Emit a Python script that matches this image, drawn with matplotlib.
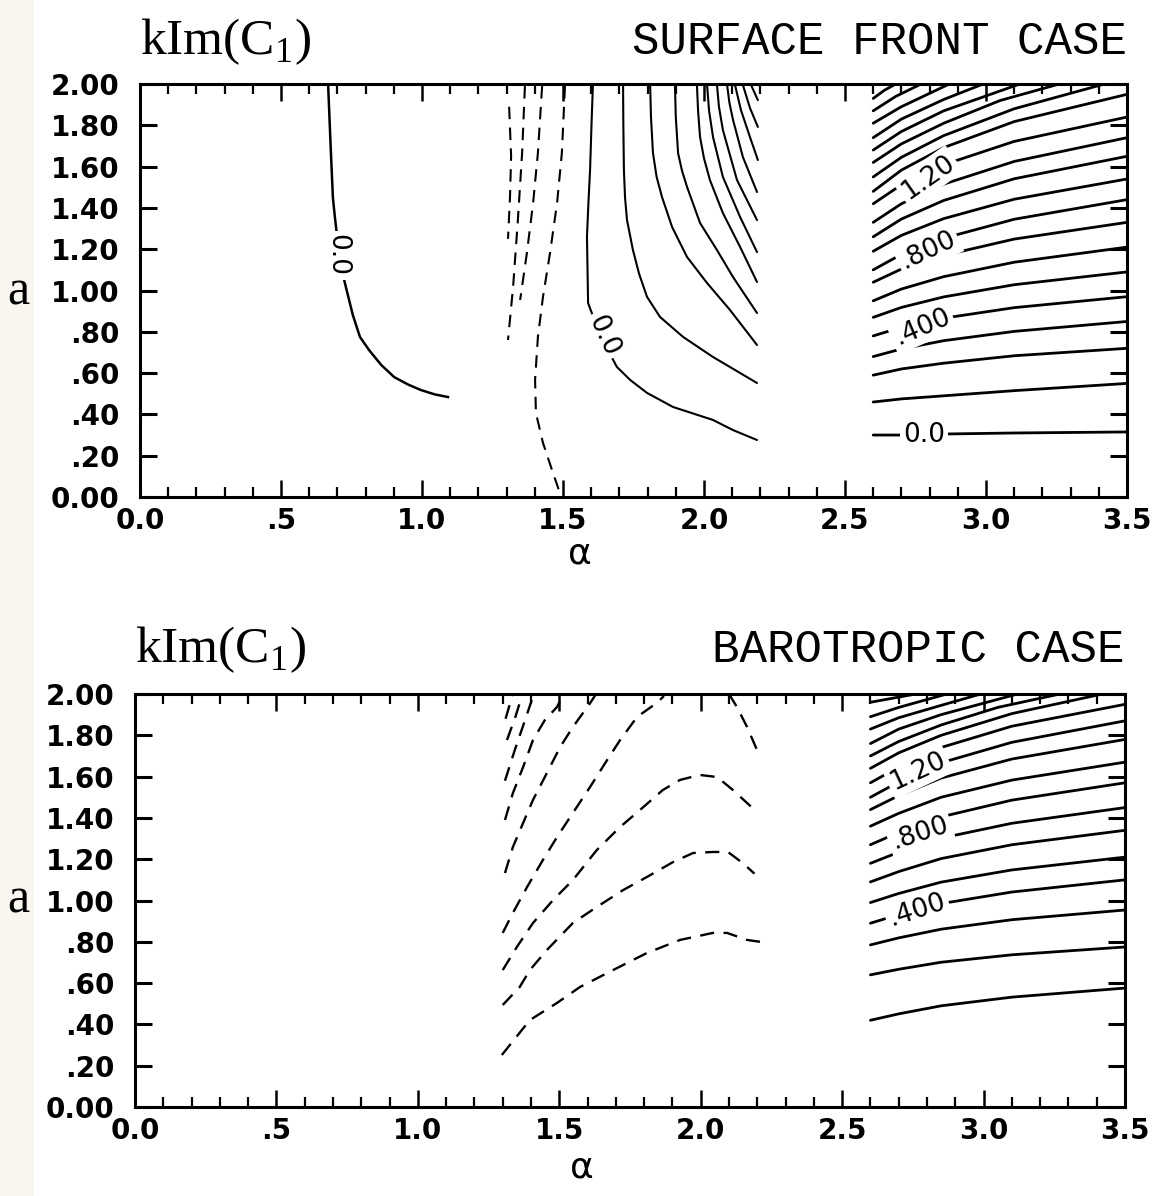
import matplotlib
matplotlib.use("Agg")
import matplotlib.pyplot as plt
from matplotlib.patches import Rectangle
from matplotlib.ticker import MultipleLocator

plt.rcParams["mathtext.fontset"] = "custom"
plt.rcParams["mathtext.rm"] = "Liberation Serif"

# ---------------------------------------------------------------------------
# axis ticks (shared by both panels)
x_ticks = [0.0, 0.5, 1.0, 1.5, 2.0, 2.5, 3.0, 3.5]
x_tick_labels = ["0.0", ".5", "1.0", "1.5", "2.0", "2.5", "3.0", "3.5"]
y_ticks = [0.0, 0.2, 0.4, 0.6, 0.8, 1.0, 1.2, 1.4, 1.6, 1.8, 2.0]
y_tick_labels = ["0.00", ".20", ".40", ".60", ".80", "1.00",
                 "1.20", "1.40", "1.60", "1.80", "2.00"]

titles = ["SURFACE FRONT CASE", "BAROTROPIC CASE"]

# ---------------------------------------------------------------------------
# SURFACE FRONT CASE -- digitised contours (alpha, a)

# isolated 0.0 contour on the left
sf_left_alpha = [0.667, 0.676, 0.684, 0.691, 0.700, 0.712, 0.730, 0.755, 0.780,
                 0.812, 0.855, 0.901, 0.950, 0.996, 1.045, 1.092]
sf_left_a = [2.00, 1.70, 1.45, 1.356, 1.25, 1.12, 1.017, 0.88, 0.775,
             0.712, 0.64, 0.581, 0.545, 0.518, 0.497, 0.484]

# negative (dashed) contours around alpha = 1.3 - 1.5
sf_dashed_alpha = [
    [1.309, 1.316, 1.312, 1.305],
    [1.365, 1.355, 1.340, 1.323, 1.305],
    [1.426, 1.411, 1.394, 1.372, 1.348],
    [1.507, 1.496, 1.479, 1.454, 1.429, 1.411, 1.401, 1.404, 1.429, 1.461, 1.489],
]
sf_dashed_a = [
    [1.89, 1.65, 1.45, 1.25],
    [1.99, 1.666, 1.341, 1.017, 0.76],
    [1.99, 1.666, 1.424, 1.182, 0.954],
    [1.99, 1.666, 1.424, 1.182, 0.969, 0.775, 0.567, 0.407, 0.262, 0.131, 0.019],
]

# positive contours between alpha = 1.6 and 2.2 (first one is 0.0)
sf_mid_alpha = [
    [1.606, 1.601, 1.596, 1.590, 1.585, 1.589, 1.631, 1.691, 1.738, 1.798, 1.890,
     1.960, 2.032, 2.103, 2.188],
    [1.713, 1.714, 1.716, 1.720, 1.727, 1.748, 1.770, 1.798, 1.844, 1.926, 2.032,
     2.110, 2.188],
    [1.809, 1.812, 1.819, 1.832, 1.851, 1.887, 1.940, 2.011, 2.092, 2.188],
    [1.897, 1.900, 1.908, 1.922, 1.940, 1.986, 2.046, 2.103, 2.188],
    [1.975, 1.979, 1.986, 2.000, 2.021, 2.067, 2.128, 2.188],
    [2.011, 2.018, 2.032, 2.067, 2.128, 2.188],
    [2.046, 2.053, 2.067, 2.117, 2.188],
    [2.082, 2.090, 2.103, 2.138, 2.188],
    [2.110, 2.131, 2.163, 2.191],
    [2.138, 2.163, 2.191],
    [2.167, 2.191],
]
sf_mid_a = [
    [1.995, 1.80, 1.584, 1.42, 1.259, 0.939, 0.785, 0.630, 0.567, 0.504, 0.436,
     0.405, 0.373, 0.324, 0.276],
    [1.995, 1.80, 1.584, 1.45, 1.341, 1.196, 1.080, 0.969, 0.872, 0.775, 0.678,
     0.615, 0.552],
    [1.995, 1.84, 1.666, 1.55, 1.453, 1.307, 1.162, 1.036, 0.906, 0.736],
    [1.995, 1.84, 1.666, 1.58, 1.501, 1.327, 1.196, 1.065, 0.891],
    [1.995, 1.87, 1.743, 1.64, 1.535, 1.375, 1.211, 1.041],
    [1.995, 1.87, 1.743, 1.550, 1.356, 1.186],
    [1.995, 1.89, 1.777, 1.535, 1.341],
    [1.995, 1.91, 1.826, 1.646, 1.477],
    [1.995, 1.874, 1.743, 1.632],
    [1.995, 1.884, 1.792],
    [1.995, 1.922],
]

# right-hand family, levels 0.0 ... 2.0 step 0.1
sf_right_alpha = [
    [2.6, 2.7, 2.85, 3.1, 3.5],   # 0.0
    [2.6, 2.7, 2.85, 3.1, 3.5],   # 0.1
    [2.6, 2.7, 2.85, 3.1, 3.5],
    [2.6, 2.7, 2.85, 3.1, 3.5],
    [2.6, 2.7, 2.85, 3.1, 3.5],   # 0.4
    [2.6, 2.7, 2.85, 3.1, 3.5],
    [2.6, 2.7, 2.85, 3.1, 3.5],
    [2.6, 2.7, 2.85, 3.1, 3.5],
    [2.6, 2.7, 2.85, 3.1, 3.5],   # 0.8
    [2.6, 2.7, 2.85, 3.1, 3.5],
    [2.6, 2.7, 2.85, 3.1, 3.5],
    [2.6, 2.7, 2.85, 3.1, 3.5],
    [2.6, 2.7, 2.85, 3.1, 3.5],   # 1.2
    [2.6, 2.7, 2.85, 3.1, 3.5],
    [2.6, 2.7, 2.85, 3.1, 3.42],
    [2.6, 2.7, 2.85, 3.05, 3.26],
    [2.6, 2.7, 2.85, 3.12],
    [2.6, 2.7, 2.85, 2.99],
    [2.6, 2.7, 2.87],
    [2.6, 2.68, 2.77],
    [2.6, 2.64, 2.68],
]
sf_right_a = [
    [0.30, 0.30, 0.305, 0.31, 0.315],
    [0.46, 0.475, 0.49, 0.515, 0.55],
    [0.59, 0.62, 0.648, 0.684, 0.72],
    [0.68, 0.717, 0.757, 0.802, 0.85],
    [0.78, 0.822, 0.866, 0.917, 0.97],
    [0.87, 0.918, 0.969, 1.028, 1.09],
    [0.95, 1.007, 1.067, 1.137, 1.21],
    [1.04, 1.104, 1.17, 1.249, 1.33],
    [1.10, 1.175, 1.253, 1.345, 1.44],
    [1.19, 1.267, 1.348, 1.442, 1.54],
    [1.26, 1.346, 1.436, 1.541, 1.65],
    [1.33, 1.42, 1.515, 1.625, 1.74],
    [1.42, 1.512, 1.609, 1.722, 1.84],
    [1.48, 1.583, 1.692, 1.818, 1.95],
    [1.55, 1.645, 1.75, 1.88, 2.0],
    [1.62, 1.71, 1.81, 1.92, 2.0],
    [1.68, 1.77, 1.87, 2.0],
    [1.74, 1.83, 1.925, 2.0],
    [1.81, 1.89, 2.0],
    [1.87, 1.94, 2.0],
    [1.93, 1.97, 2.0],
]

# ---------------------------------------------------------------------------
# BAROTROPIC CASE

bt_dashed_alpha = [
    [1.297, 1.396, 1.492, 1.573, 1.690, 1.810, 1.927, 2.043, 2.093, 2.164, 2.21],
    [1.30, 1.36, 1.396, 1.456, 1.548, 1.633, 1.725, 1.81, 1.902, 1.973, 2.043, 2.096, 2.15, 2.19],
    [1.30, 1.35, 1.407, 1.478, 1.548, 1.633, 1.715, 1.785, 1.866, 1.927, 1.997, 2.058, 2.114, 2.199],
    [1.30, 1.336, 1.386, 1.442, 1.492, 1.548, 1.609, 1.669, 1.715, 1.775, 1.845, 1.87],
    [2.10, 2.128, 2.164, 2.199],
    [1.308, 1.336, 1.372, 1.407, 1.456, 1.503, 1.548, 1.609, 1.63],
    [1.308, 1.336, 1.372, 1.407, 1.449, 1.492, 1.515],
    [1.308, 1.343, 1.379, 1.41],
    [1.315, 1.345, 1.37],
    [1.31, 1.325, 1.335],
]
bt_dashed_a = [
    [0.252, 0.421, 0.504, 0.581, 0.663, 0.746, 0.809, 0.843, 0.843, 0.809, 0.80],
    [0.494, 0.581, 0.663, 0.76, 0.891, 0.969, 1.05, 1.114, 1.186, 1.23, 1.235, 1.235, 1.18, 1.13],
    [0.663, 0.775, 0.891, 1.002, 1.099, 1.245, 1.356, 1.438, 1.535, 1.584, 1.608, 1.598, 1.535, 1.428],
    [0.843, 0.94, 1.065, 1.196, 1.307, 1.424, 1.55, 1.68, 1.777, 1.889, 1.957, 1.99],
    [2.0, 1.937, 1.84, 1.729],
    [1.133, 1.259, 1.375, 1.487, 1.617, 1.743, 1.84, 1.956, 2.0],
    [1.39, 1.52, 1.646, 1.777, 1.874, 1.937, 2.0],
    [1.58, 1.73, 1.874, 2.0],
    [1.777, 1.89, 2.0],
    [1.88, 1.95, 2.0],
]

# right-hand family, levels 0.1 ... 1.8
bt_right_alpha = [
    [2.6, 2.7, 2.85, 3.1, 3.5],   # 0.1
    [2.6, 2.7, 2.85, 3.1, 3.5],
    [2.6, 2.7, 2.85, 3.1, 3.5],
    [2.6, 2.7, 2.85, 3.1, 3.5],   # 0.4
    [2.6, 2.7, 2.85, 3.1, 3.5],
    [2.6, 2.7, 2.85, 3.1, 3.5],
    [2.6, 2.7, 2.85, 3.1, 3.5],
    [2.6, 2.7, 2.85, 3.1, 3.5],   # 0.8
    [2.6, 2.7, 2.85, 3.1, 3.5],
    [2.6, 2.7, 2.85, 3.1, 3.5],
    [2.6, 2.7, 2.85, 3.1, 3.5],
    [2.6, 2.7, 2.85, 3.1, 3.5],   # 1.2
    [2.6, 2.7, 2.85, 3.1, 3.42],
    [2.6, 2.7, 2.85, 3.05, 3.27],
    [2.6, 2.7, 2.85, 3.12],
    [2.6, 2.7, 2.85, 2.99],
    [2.6, 2.7, 2.87],
    [2.6, 2.68, 2.76],
]
bt_right_a = [
    [0.42, 0.451, 0.49, 0.532, 0.576],
    [0.64, 0.667, 0.701, 0.737, 0.775],
    [0.785, 0.819, 0.861, 0.907, 0.954],
    [0.89, 0.932, 0.985, 1.041, 1.10],
    [0.99, 1.034, 1.089, 1.148, 1.21],
    [1.09, 1.14, 1.203, 1.27, 1.34],
    [1.18, 1.234, 1.302, 1.374, 1.45],
    [1.27, 1.33, 1.405, 1.486, 1.57],
    [1.36, 1.422, 1.50, 1.583, 1.67],
    [1.44, 1.508, 1.593, 1.685, 1.78],
    [1.50, 1.574, 1.667, 1.766, 1.87],
    [1.57, 1.646, 1.741, 1.844, 1.95],
    [1.64, 1.715, 1.80, 1.905, 2.0],
    [1.70, 1.77, 1.85, 1.935, 2.0],
    [1.76, 1.83, 1.90, 2.0],
    [1.83, 1.885, 1.945, 2.0],
    [1.89, 1.935, 2.0],
    [1.96, 1.98, 2.0],
]

# ---------------------------------------------------------------------------
LABEL_FONT = "DejaVu Sans"
W, H = 1158, 1196
fig = plt.figure(figsize=(W / 100, H / 100), dpi=100)
fig.patch.set_facecolor("white")
# faint yellowish edge of the scanned page
fig.patches.append(Rectangle((0, 0), 34 / W, 1, transform=fig.transFigure,
                             facecolor="#f8f6ef", edgecolor="none", zorder=0))


def px_axes(left, top, right, bottom):
    return fig.add_axes([left / W, 1 - bottom / H, (right - left) / W, (bottom - top) / H])


def style_axes(ax):
    ax.set_xlim(0, 3.5)
    ax.set_ylim(0, 2.0)
    ax.set_xticks(x_ticks)
    ax.set_xticklabels(x_tick_labels)
    ax.set_yticks(y_ticks)
    ax.set_yticklabels(y_tick_labels)
    ax.xaxis.set_minor_locator(MultipleLocator(0.1))
    ax.tick_params(axis="both", which="both", direction="in", top=True, right=True,
                   color="black", labelsize=20)
    ax.tick_params(axis="x", which="major", length=12, width=1.8, pad=7)
    ax.tick_params(axis="x", which="minor", length=7, width=1.6)
    ax.tick_params(axis="y", which="major", length=12, width=2.2, pad=15)
    for lab in ax.get_xticklabels() + ax.get_yticklabels():
        lab.set_fontfamily(LABEL_FONT)
        lab.set_fontweight("bold")
    for sp in ax.spines.values():
        sp.set_linewidth(2.2)


def contour_label(ax, x, y, s, rot):
    ax.text(x, y, s, rotation=rot, rotation_mode="anchor", ha="center", va="center",
            fontsize=19, family=LABEL_FONT, zorder=5,
            bbox=dict(boxstyle="square,pad=0.12", fc="white", ec="none"))


def draw_lines(ax, xs, ys, lw, dashed=False):
    for x, y in zip(xs, ys):
        if dashed:
            ax.plot(x, y, color="black", lw=lw, dashes=(6, 4), zorder=3)
        else:
            ax.plot(x, y, color="black", lw=lw, solid_capstyle="round", zorder=3)


# ---- top panel ------------------------------------------------------------
ax1 = px_axes(140, 84, 1127, 497)
style_axes(ax1)
ax1.plot(sf_left_alpha, sf_left_a, color="black", lw=1.8, zorder=3)
draw_lines(ax1, sf_dashed_alpha, sf_dashed_a, 1.5, dashed=True)
draw_lines(ax1, sf_mid_alpha, sf_mid_a, 1.5)
draw_lines(ax1, sf_right_alpha, sf_right_a, 2.0)

contour_label(ax1, 0.699, 1.17, "0.0", -90)
contour_label(ax1, 1.642, 0.78, "0.0", -65)
contour_label(ax1, 2.78, 0.30, "0.0", 0)
contour_label(ax1, 2.773, 0.823, ".400", 23)
contour_label(ax1, 2.794, 1.196, ".800", 25)
contour_label(ax1, 2.794, 1.55, "1.20", 35)

# ---- bottom panel ---------------------------------------------------------
ax2 = px_axes(135, 694, 1125, 1107)
style_axes(ax2)
draw_lines(ax2, bt_dashed_alpha, bt_dashed_a, 1.7, dashed=True)
draw_lines(ax2, bt_right_alpha, bt_right_a, 2.0)

contour_label(ax2, 2.765, 0.954, ".400", 18)
contour_label(ax2, 2.775, 1.327, ".800", 18)
contour_label(ax2, 2.768, 1.627, "1.20", 25)

# ---- titles and axis names -------------------------------------------------
for ax, title, ytop in [(ax1, titles[0], 42), (ax2, titles[1], 650)]:
    x0 = ax.get_position().x0
    x1 = ax.get_position().x1
    fig.text(x0, 1 - ytop / H, r"kIm(C$_{\mathrm{1}}$)", family="Liberation Serif",
             fontsize=37, ha="left", va="center")
    fig.text(x1, 1 - ytop / H, title, family="Liberation Mono",
             fontsize=33, ha="right", va="center")

fig.text(18 / W, 1 - 292 / H, "a", family="Liberation Serif", fontsize=36,
         ha="center", va="center")
fig.text(18 / W, 1 - 900 / H, "a", family="Liberation Serif", fontsize=36,
         ha="center", va="center")
fig.text(580 / W, 1 - 564 / H, "α", family="DejaVu Sans", fontsize=26,
         ha="center", va="baseline")
fig.text(582 / W, 1 - 1178 / H, "α", family="DejaVu Sans", fontsize=26,
         ha="center", va="baseline")

fig.savefig("out.png", dpi=100, facecolor="white")
